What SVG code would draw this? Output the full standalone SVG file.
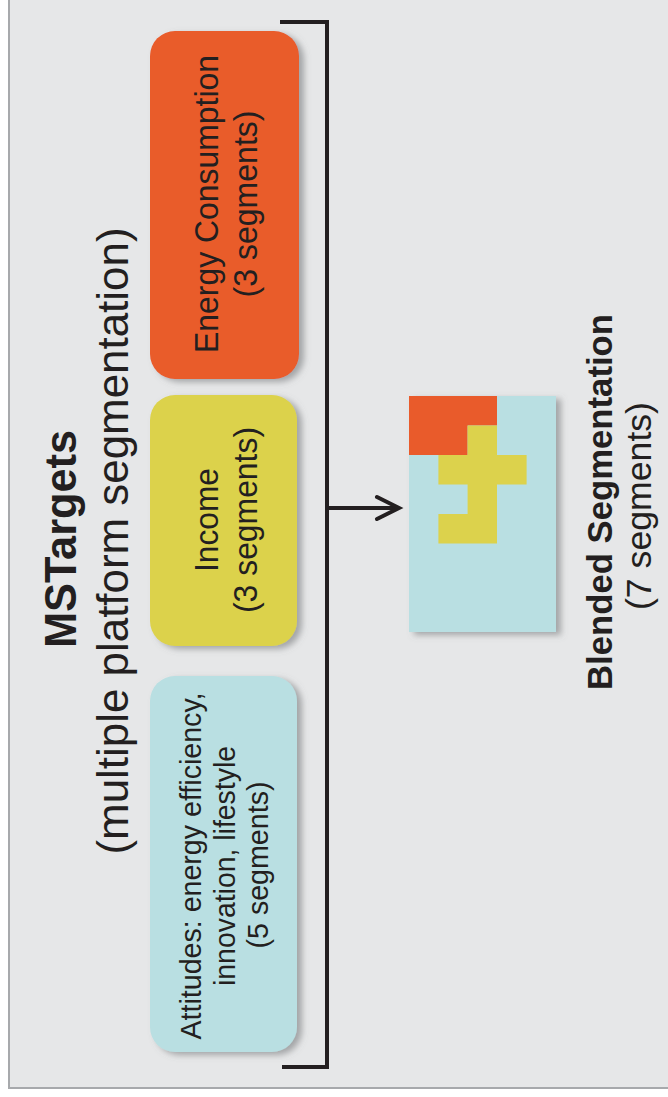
<svg xmlns="http://www.w3.org/2000/svg" width="668" height="1097" viewBox="0 0 668 1097">
<defs>
<style>
text{font-family:"Liberation Sans",Arial,sans-serif;fill:#231f20;text-anchor:middle}
.t{font-size:44px}
.b{font-weight:bold}
.n{font-size:33px}
.a{font-size:30px}
.bl{font-size:35px}
.ln{fill:none;stroke:#231f20;stroke-width:4}
</style>
<filter id="sh" x="-20%" y="-20%" width="140%" height="140%">
<feDropShadow dx="5" dy="3" stdDeviation="3" flood-color="#6d6e71" flood-opacity="0.55"/>
</filter>
</defs>
<rect width="668" height="1097" fill="#ffffff"/>
<rect x="9" y="-10" width="700" height="1098" fill="#e6e7e8" stroke="#a7a9ac" stroke-width="2"/>
<g id="title">
<text class="t b" textLength="218" lengthAdjust="spacingAndGlyphs" transform="translate(76,539) rotate(-90)">MSTargets</text>
<text class="t" textLength="627" lengthAdjust="spacingAndGlyphs" transform="translate(128,541) rotate(-90)">(multiple platform segmentation)</text>
</g>
<g id="energy">
<rect x="150" y="31" width="149" height="348" rx="25" fill="#e95b2b" filter="url(#sh)"/>
<text class="n" textLength="298" lengthAdjust="spacingAndGlyphs" transform="translate(218,204) rotate(-90)">Energy Consumption</text>
<text class="n" textLength="187" lengthAdjust="spacingAndGlyphs" transform="translate(257,204) rotate(-90)">(3 segments)</text>
</g>
<g id="income">
<rect x="150" y="395" width="147" height="251" rx="25" fill="#dcd24c" filter="url(#sh)"/>
<text class="n" textLength="104" lengthAdjust="spacingAndGlyphs" transform="translate(218,520) rotate(-90)">Income</text>
<text class="n" textLength="186" lengthAdjust="spacingAndGlyphs" transform="translate(257,520) rotate(-90)">(3 segments)</text>
</g>
<g id="attitudes">
<rect x="150" y="676" width="147" height="376" rx="25" fill="#b9dfe2" filter="url(#sh)"/>
<text class="a" textLength="347" lengthAdjust="spacingAndGlyphs" transform="translate(201,866) rotate(-90)">Attitudes: energy efficiency,</text>
<text class="a" textLength="240" lengthAdjust="spacingAndGlyphs" transform="translate(235,866) rotate(-90)">innovation, lifestyle</text>
<text class="a" textLength="167" lengthAdjust="spacingAndGlyphs" transform="translate(268,865) rotate(-90)">(5 segments)</text>
</g>
<g id="blended">
<g filter="url(#sh)">
<rect x="409" y="396" width="147" height="236" fill="#b9dfe2"/>
</g>
<path d="M409 396H497V425.5H467.6V455H409Z" fill="#e95b2b"/>
<path d="M467.6 425.5H497V455H526.6V484.5H497V543.5H438.4V514H467.6V484.5H438.4V455H467.6Z" fill="#dcd24c"/>
<text class="bl b" textLength="376" lengthAdjust="spacingAndGlyphs" transform="translate(612,502) rotate(-90)">Blended Segmentation</text>
<text class="bl" textLength="208" lengthAdjust="spacingAndGlyphs" transform="translate(651,506) rotate(-90)">(7 segments)</text>
</g>
<g id="connectors">
<path class="ln" d="M280 22H327V1067H282"/>
<path class="ln" d="M327 508H397"/>
<path class="ln" d="M377 497L399 508L377 519" stroke-linecap="round" stroke-linejoin="miter"/>
</g>
</svg>
